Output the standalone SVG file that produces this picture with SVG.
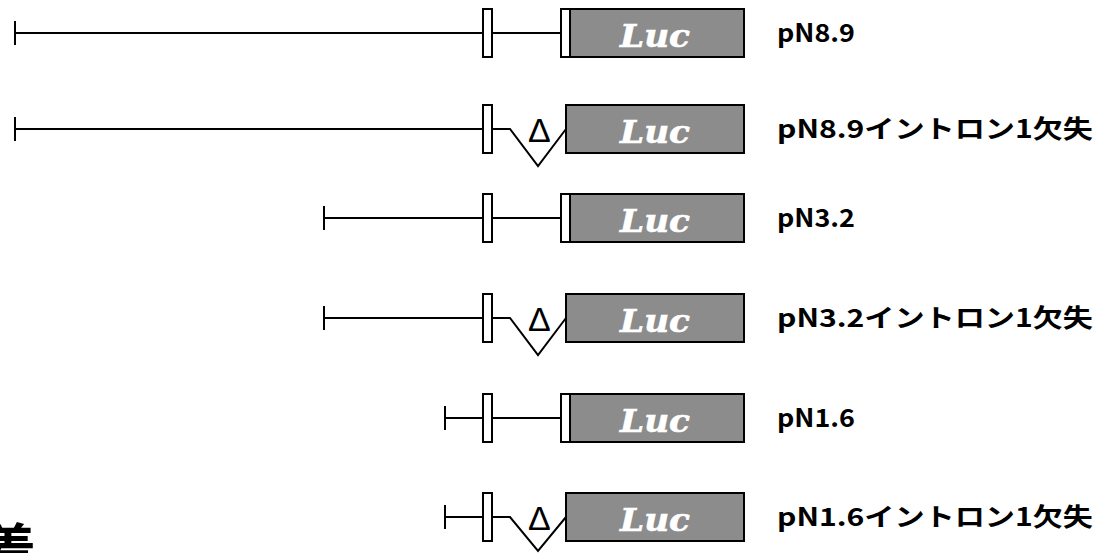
<svg xmlns="http://www.w3.org/2000/svg" width="1104" height="553" viewBox="0 0 1104 553">
<style>
.ln{stroke:#000;stroke-width:2;fill:none}
.sm{fill:#fff;stroke:#000;stroke-width:2}
.luc{fill:#8c8c8c;stroke:#000;stroke-width:2}
.lt{font-family:"DejaVu Serif","Liberation Serif",serif;font-weight:bold;font-style:italic;font-size:31px;fill:#fff;stroke:#fff;stroke-width:0.6}
.lab{font-family:"Noto Sans CJK JP",sans-serif;font-weight:bold;font-size:25px;fill:#000}
.del{font-family:"Liberation Sans",sans-serif;font-size:34px;fill:#000}
</style>
<rect width="1104" height="553" fill="#fff"/>
<g id="connectors">
<path class="ln" d="M15 21V45M15 33H483M492 33H561"/>
<path class="ln" d="M15 117V141M15 129H483M492 129H510L538 166L566 129"/>
<path class="ln" d="M324 206V230M324 218H483M492 218H561"/>
<path class="ln" d="M324 306V330M324 318H483M492 318H510L538 355L566 318"/>
<path class="ln" d="M445 406V430M445 418H483M492 418H561"/>
<path class="ln" d="M445 505V529M445 517H483M492 517H510L538 551L566 517"/>
</g>
<g id="row1">
<rect class="sm" x="483" y="9" width="9" height="48"/>
<rect class="sm" x="561" y="9" width="9" height="48"/>
<rect class="luc" x="570" y="9" width="174" height="48"/>
<text class="lt" x="620" y="47" textLength="70" lengthAdjust="spacingAndGlyphs">Luc</text>
<text class="lab" x="777" y="42" textLength="78" lengthAdjust="spacingAndGlyphs">pN8.9</text>
</g>
<g id="row2">
<rect class="sm" x="483" y="105" width="9" height="48"/>
<rect class="luc" x="566" y="105" width="178" height="48"/>
<text class="lt" x="620" y="143" textLength="70" lengthAdjust="spacingAndGlyphs">Luc</text>
<text class="del" x="528" y="142">Δ</text>
<text class="lab" x="777" y="138" textLength="316" lengthAdjust="spacingAndGlyphs">pN8.9イントロン1欠失</text>
</g>
<g id="row3">
<rect class="sm" x="483" y="194" width="9" height="48"/>
<rect class="sm" x="561" y="194" width="9" height="48"/>
<rect class="luc" x="570" y="194" width="174" height="48"/>
<text class="lt" x="620" y="232" textLength="70" lengthAdjust="spacingAndGlyphs">Luc</text>
<text class="lab" x="777" y="227" textLength="78" lengthAdjust="spacingAndGlyphs">pN3.2</text>
</g>
<g id="row4">
<rect class="sm" x="483" y="294" width="9" height="48"/>
<rect class="luc" x="566" y="294" width="178" height="48"/>
<text class="lt" x="620" y="332" textLength="70" lengthAdjust="spacingAndGlyphs">Luc</text>
<text class="del" x="528" y="331">Δ</text>
<text class="lab" x="777" y="327" textLength="316" lengthAdjust="spacingAndGlyphs">pN3.2イントロン1欠失</text>
</g>
<g id="row5">
<rect class="sm" x="483" y="394" width="9" height="48"/>
<rect class="sm" x="561" y="394" width="9" height="48"/>
<rect class="luc" x="570" y="394" width="174" height="48"/>
<text class="lt" x="620" y="432" textLength="70" lengthAdjust="spacingAndGlyphs">Luc</text>
<text class="lab" x="777" y="427" textLength="78" lengthAdjust="spacingAndGlyphs">pN1.6</text>
</g>
<g id="row6">
<rect class="sm" x="483" y="493" width="9" height="48"/>
<rect class="luc" x="566" y="493" width="178" height="48"/>
<text class="lt" x="620" y="531" textLength="70" lengthAdjust="spacingAndGlyphs">Luc</text>
<text class="del" x="528" y="530">Δ</text>
<text class="lab" x="777" y="526" textLength="316" lengthAdjust="spacingAndGlyphs">pN1.6イントロン1欠失</text>
</g>
<g id="cut-text">
<text x="-20" y="570" font-family="Noto Sans CJK JP, sans-serif" font-weight="bold" font-size="56">着</text>
</g>
</svg>
